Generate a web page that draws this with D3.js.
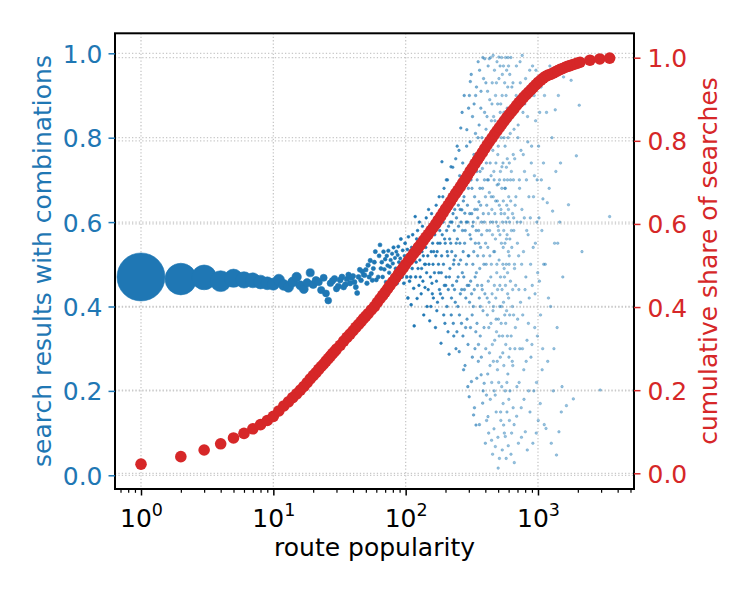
<!DOCTYPE html>
<html>
<head>
<meta charset="utf-8">
<script src="https://cdn.jsdelivr.net/npm/d3@7"></script>
<style>
  body { margin: 0; background: #fff; }
  svg text { font-family: "DejaVu Sans", sans-serif; }
</style>
</head>
<body>
<svg id="chart" width="750" height="600"></svg>
<script>
// red: cumulative share of searches, one point per popularity value
const shareX = [1,2,3,4,5,6,7,8,9,10,11,12,13,14,15,16,17,18,19,
  20,21,22,23,24,25,26,27,28,29,30,32,34,36,38,40,42,44,46,48,50,52,55,58,61,64,67,70,73,76,80,84,88,92,96,
  100,105,110,115,120,125,130,136,142,148,155,162,169,176,184,192,200,209,218,228,238,248,259,270,282,294,
  307,320,334,349,364,380,396,413,431,450,470,490,511,533,556,580,605,631,658,687,717,748,780,814,849,886,924,964,
  1006,1050,1095,1143,1192,1244,1298,1354,1413,1474,1538,1605,1675,1748,1824,1903,1986,2080,2470,2930,3480];
const shareY = [.022,.040,.056,.071,.085,.096,.107,.117,.127,.137,.150,.162,.172,.182,.191,.200,.209,.218,.227,
  .235,.242,.250,.257,.263,.270,.276,.282,.288,.293,.299,.308,.318,.327,.335,.343,.351,.358,.365,.372,.378,.384,.393,
  .401,.411,.420,.428,.436,.444,.452,.461,.470,.479,.487,.495,
  .503,.512,.520,.529,.536,.544,.551,.560,.568,.575,.584,.592,.600,.609,.618,.627,.636,.645,.654,.664,.673,.681,
  .690,.699,.708,.717,.727,.735,.745,.754,.763,.772,.781,.790,.799,.807,.816,.824,.832,.840,.848,.856,.863,.870,
  .877,.885,.892,.898,.905,.911,.917,.923,.929,.935,
  .941,.946,.951,.955,.958,.960,.963,.966,.969,.972,.974,.977,.979,.981,.983,.985,.987,.989,.994,.997,.999];

// blue: share of search results with combinations, low popularity (many routes each)
const comboHead = [[1,.470],[2,.465],[3,.469],[4,.460],[5,.467],[6,.463],[7,.462],[8,.458],[9,.455],[10,.453],
  [11,.463],[12,.451],[13,.446],[14,.458],[15,.470],[16,.450],[17,.441],[18,.456],[19,.480],[20,.452],
  [21,.462],[22,.458],[23,.439],[24,.468],[25,.431],[26,.414],[27,.455],[28,.461],[29,.466],[30,.442],
  [31,.448],[32,.463],[33,.470],[34,.446],[35,.452],[36,.465],[37,.475],[38,.455],[39,.468],[40,.472],
  [41,.458],[42,.446],[43,.432],[44,.470],[45,.487],[46,.462],[47,.483],[48,.475],[49,.474],[50,.487],
  [51,.455],[52,.498],[53,.470],[54,.509],[55,.478],[56,.462],[57,.490],[58,.505],[59,.530],[60,.463]];

// blue: higher popularity (few routes each, so widely spread)
const comboCloud = [
  [62,.47],[63,.52],[64,.546],[65,.49],[66,.505],[67,.47],[68,.53],[69,.488],[70,.512],[71,.458],[72,.52],[73,.497],
  [74,.532],[75,.48],[76,.494],[77,.51],[78,.462],[79,.525],[80,.502],[81,.54],[82,.47],[83,.515],
  [84,.49],[85,.53],[86,.455],[87,.522],[88,.542],[89,.505],[90,.48],[91,.514],[92,.56],[93,.498],[94,.47],[95,.533],
  [96,.49],[97,.455],[98,.52],[99,.55],[100,.486],[101,.51],[102,.47],[103,.535],[104,.42],[105,.565],[106,.498],[107,.46],[108,.522],
  [110,.404],[111,.54],[112,.49],[113,.57],[115,.443],[116,.354],[117,.52],[118,.613],[119,.47],[120,.505],[121,.56],[122,.419],
  [123,.58],[124,.49],[125,.53],[126,.45],[127,.6],[128,.51],[129,.47],[130,.555],[131,.43],[132,.49],[133,.53],[134,.59],
  [135,.46],[136,.52],[137,.38],[138,.57],[139,.5],[140,.445],
  [142,.54],[143,.61],[144,.48],[145,.4],[146,.56],[147,.52],[148,.44],[149,.63],[150,.5],[152,.366],[153,.58],[154,.47],
  [155,.4],[156,.53],[157,.62],[158,.455],[160,.55],[161,.5],[162,.42],[164,.6],[165,.48],[166,.57],[168,.35],[169,.52],
  [170,.64],[171,.46],[173,.53],[174,.41],[176,.59],[177,.5],[179,.66],[180,.44],
  [182,.55],[184,.62],[185,.313],[186,.48],[188,.743],[189,.57],[190,.42],[192,.6],[193,.5],[195,.68],[196,.45],[198,.36],
  [199,.55],[200,.63],[202,.47],[204,.58],[205,.4],[207,.7],[208,.52],[210,.44],[212,.65],[213,.287],[215,.56],[216,.49],
  [218,.6],[220,.731],[221,.38],[223,.53],[225,.67],[226,.45],[228,.62],[230,.5],[231,.33],[233,.58],[234,.44],
  [236,.676],[238,.52],[240,.3],[242,.61],[243,.46],[245,.78],[246,.56],[248,.4],[250,.64],[252,.5],[254,.293],[256,.71],
  [257,.55],[259,.43],[261,.823],[262,.6],[264,.36],[266,.629],[268,.48],[270,.74],[272,.53],[274,.25],[276,.66],[278,.44],
  [280,.621],[282,.58],[284,.35],[286,.72],[288,.5],[290,.819],[292,.45],[294,.6],[296,.31],[298,.68],[300,.52],[302,.186],
  [303,.9],[304,.41],
  [306,.57],[308,.933],[310,.46],[312,.7],[314,.222],[316,.62],[318,.38],[320,.85],[322,.5],[324,.6],[326,.143],[328,.76],
  [330,.44],[332,.66],[334,.3],[336,.55],[338,.9],[340,.119],[342,.48],[344,.72],[346,.36],[348,.63],[350,.52],[352,.8],
  [354,.27],[356,.58],[358,.648],[360,.42],[362,.96],[364,.68],[366,.33],[368,.54],[370,.87],[372,.238],[374,.6],[376,.45],
  [378,.75],[380,.727],[382,.171],[384,.39],[386,.62],[388,.94],[390,.5],[392,.218],[394,.7],[396,.987],
  [400,.076],[402,.55],[405,.82],[408,.19],[410,.64],[413,.42],[416,.91],[419,.139],[422,.7],[425,.35],[428,.987],[431,.58],
  [434,.26],[437,.78],[440,.47],[443,.66],[446,.083],[449,.88],[452,.31],[455,.6],[458,.995],[461,.4],[464,.72],[467,.2],
  [470,.53],[473,.84],[476,.068],[479,.65],[482,.37],[485,.93],[488,.48],[491,.688],[494,.25],[497,.76],[500,.017],[503,.58],
  [506,.991],[509,.33],[512,.7],[515,.45],
  [518,.86],[522,.15],[526,.62],[530,.4],[534,.731],[538,.95],[542,.29],[546,.54],[550,.119],[554,.8],[558,.47],[562,.68],
  [566,.092],[570,.36],[574,.9],[578,.56],[582,.22],[586,.75],[590,.43],[594,.99],[598,.63],[602,.18],[606,.52],[610,.84],
  [615,.3],[620,.7],[625,.05],[630,.58],[635,.92],[640,.4],[645,.26],[650,.76],[655,.61],[660,.12],[665,.49],[670,.88],
  [675,.35],[681,.66],[687,.97],[693,.21],[699,.55],[705,.8],[711,.076],[717,.44],[723,.7],[729,.3],[735,.93],[741,.6],
  [747,.16],[753,.5],[760,.995],[767,.38],[774,.76],[781,.25],[788,.61],[795,.88],[802,.103],[810,.47],[818,.7],[826,.32],
  [834,.85],[842,.57],[850,.2],[858,.42],[866,.96],
  [875,.61],[885,.28],[895,.78],[905,.45],[915,.076],[925,.66],[935,.9],[945,.35],[955,.55],[965,.96],[975,.22],[985,.7],
  [995,.48],[1005,.13],[1018,.61],[1030,.86],[1045,.38],[1060,.7],[1075,.25],[1090,.655],[1105,.5],[1120,.9],
  [1150,.111],[1175,.646],[1200,.42],[1230,.97],[1260,.076],[1290,.626],[1320,.3],[1350,.866],[1380,.048],[1410,.55],
  [1440,.103],[1480,.74],[1520,.21],[1560,.944],
  [1640,.165],[1700,.641],[1780,.936],[1850,.181],[1950,.757],[2050,.877],[2150,.53],
  [2950,.202],[3480,.613]];

// blue: the rest of the dense part of the cloud
const comboDense = [
  [109,.47],[114,.52],[141,.5],[151,.57],[159,.43],[163,.53],[167,.61],[172,.39],[175,.55],[178,.48],[181,.58],[183,.43],
  [187,.52],[191,.66],[194,.38],[197,.56],[201,.45],[203,.7],[206,.53],[209,.34],[211,.59],[214,.47],[217,.64],[219,.55],
  [222,.42],[224,.6],[227,.73],[229,.36],[232,.51],[235,.63],[237,.41],[239,.75],[241,.55],[244,.34],[247,.68],[249,.47],
  [251,.59],[253,.77],[255,.38],[258,.63],
  [260,.51],[263,.7],[265,.44],[267,.86],[269,.58],[271,.33],[273,.65],[275,.47],[277,.9],[279,.55],[281,.26],[283,.69],
  [285,.42],[287,.6],[289,.78],[291,.37],[293,.64],[295,.21],[297,.52],[299,.87],[301,.45],[305,.62],[307,.79],[309,.35],
  [311,.56],[313,.95],[315,.43],[317,.68],[319,.28],[321,.59],[323,.74],[325,.4],[327,.53],[329,.88],[331,.16],[333,.63],
  [335,.47],[337,.81],[339,.34],[341,.58],[343,.92],[345,.23],[347,.7],[349,.45],[351,.61],[353,.98],[355,.31],[357,.55],
  [359,.83],[361,.12],[363,.49],[365,.72],[367,.4],[369,.64],[371,.91],[373,.28],[375,.57],[377,.8],[379,.44],[381,.68],
  [383,.99],[385,.2],[387,.52],[389,.76],[391,.35],[393,.6],[395,.86],[397,.43],
  [401,.66],[403,.3],[404,.93],[406,.5],[407,.74],[409,.13],[411,.58],[412,.85],[414,.38],[415,.7],[417,.24],[418,.54],
  [420,.97],[421,.46],[423,.62],[424,.1],[426,.8],[427,.41],[429,.67],[430,.29],[432,.89],[433,.52],[435,.74],[436,.18],
  [438,.6],[439,.99],[441,.36],[442,.71],[444,.5],[445,.84],[447,.22],[448,.63],[450,.43],[451,.93],[453,.57],[454,.05],
  [456,.77],[457,.39],[459,.66],[460,.27],[462,.85],[463,.53],[465,.11],[466,.7],[468,.45],[469,.96],[471,.32],[472,.62],
  [474,.8],[475,.19],[477,.56],[478,.9],[480,.42],[481,.74],[483,.15],[484,.6],[486,.34],[487,.83],[489,.5],[490,.98],
  [492,.27],[493,.65],[495,.44],[496,.88],[498,.09],[499,.59],[501,.78],[502,.37],[504,.69],[505,.22],[507,.94],[508,.51],
  [510,.64],[511,.04],[513,.82],[514,.4],
  [516,.57],[517,.97],[519,.28],[520,.72],[521,.47],[523,.88],[524,.13],[525,.63],[527,.36],[528,.8],[529,.55],[531,.99],
  [532,.21],[533,.68],[535,.44],[536,.9],[537,.06],[539,.6],[540,.33],[541,.84],[543,.5],[544,.74],[545,.17],[547,.65],
  [548,.97],[549,.41],[551,.58],[552,.26],[553,.86],[555,.49],[556,.7],[557,.1],[559,.62],[560,.93],[561,.38],[563,.55],
  [564,.78],[565,.2],[567,.68],[568,.45],[569,.99],[571,.31],[572,.6],[573,.83],[575,.04],[576,.5],[577,.73],[579,.39],
  [580,.96],[581,.64],[583,.15],[584,.57],[585,.87],[587,.33],[588,.7],[589,.48],[591,.92],[592,.24],[593,.61],[595,.8],
  [596,.07],[597,.53],[599,.97],[600,.42],[601,.66],[603,.28],[604,.85],[605,.5],[607,.74],[608,.13],[609,.6],[611,.38],
  [612,.95],[613,.56],[614,.2],
  [617,.81],[619,.46],[622,.65],[624,.99],[627,.33],[629,.72],[632,.1],[634,.54],[637,.86],[639,.27],[642,.62],[644,.44],
  [647,.93],[649,.16],[652,.7],[654,.38],[657,.58],[659,.82],[662,.03],[664,.5],[667,.75],[669,.3],
  [672,.64],[678,.45],[684,.9],[690,.14],[696,.6],[702,.37],[708,.83],[714,.52],[720,.22],[726,.68],[732,.98],[738,.41],
  [744,.77],[750,.09],[756,.63],[763,.3],[770,.86],[777,.53],[784,.18],[791,.72],[798,.44],[806,.94],[814,.27],[822,.58],
  [830,.06],[838,.79],[846,.36],[854,.66],[862,.9],[870,.15],[880,.5],[890,.74],[900,.31],[910,.97],[920,.54],[930,.2],
  [940,.71],[950,.43],[960,.84],[970,.1],[980,.6],[990,.33],
  [1010,.78],[1025,.46],[1040,.17],[1055,.92],[1070,.58],[1085,.3],[1100,.74],[1115,.12],[1135,.5],[1160,.86],[1185,.27],
  [1215,.68],[1245,.4],[1275,.8],[1305,.2],[1335,.55],[1365,.72],[1395,.35],[1425,.9],[1460,.6],[1500,.15],[1540,.47]];

const leftTicks = [0, 0.2, 0.4, 0.6, 0.8, 1.0];
const rightTicks = [0, 0.2, 0.4, 0.6, 0.8, 1.0];
const decadeTicks = [1, 10, 100, 1000];

const blue = "#1f77b4", red = "#d62728";
const plot = { left: 115, right: 634, top: 33.3, bottom: 489 };
const svg = d3.select("#chart");

const x = d3.scaleLog().domain([0.636, 5316]).range([plot.left, plot.right]);
const yL = d3.scaleLinear().domain([-0.0325, 1.0474]).range([plot.bottom, plot.top]);
const yR = d3.scaleLinear().domain([-0.0378, 1.0587]).range([plot.bottom, plot.top]);
// marker size shrinks with popularity (fewer routes per value)
const radius = d3.scalePow().exponent(-0.6).domain([1, 1000]).range([24, 0.38]);
const fade = d3.scaleLog().domain([150, 450]).range([1, 0.45]).clamp(true);

// dotted grid, both y axes have their own lines
const grid = svg.append("g")
  .attr("stroke", "#c8c8c8").attr("stroke-width", 1.3).attr("stroke-dasharray", "1.3,2.1");
grid.append("g").selectAll("line").data(decadeTicks).join("line")
  .attr("x1", d => x(d)).attr("x2", d => x(d)).attr("y1", plot.top).attr("y2", plot.bottom);
grid.append("g").selectAll("line").data(leftTicks).join("line")
  .attr("x1", plot.left).attr("x2", plot.right).attr("y1", d => yL(d)).attr("y2", d => yL(d));
grid.append("g").selectAll("line").data(rightTicks).join("line")
  .attr("x1", plot.left).attr("x2", plot.right).attr("y1", d => yR(d)).attr("y2", d => yR(d));

// blue scatter, big markers first
const combo = comboHead.concat(comboCloud, comboDense).sort((a, b) => a[0] - b[0]);
svg.append("g").selectAll("circle").data(combo).join("circle")
  .attr("cx", d => x(d[0]))
  .attr("cy", d => yL(d[1]))
  .attr("r", d => Math.max(1.3, radius(d[0])))
  .attr("fill", blue)
  .attr("fill-opacity", d => fade(d[0]))
  .attr("stroke", blue)
  .attr("stroke-width", 0.6)
  .attr("stroke-opacity", d => fade(d[0]));

// red cumulative share on top
svg.append("g").selectAll("circle").data(shareX).join("circle")
  .attr("cx", d => x(d))
  .attr("cy", (d, i) => yR(shareY[i]))
  .attr("r", 5.8)
  .attr("fill", red);

// frame
svg.append("rect")
  .attr("x", plot.left).attr("y", plot.top)
  .attr("width", plot.right - plot.left).attr("height", plot.bottom - plot.top)
  .attr("fill", "none").attr("stroke", "#000").attr("stroke-width", 2);

const fontSize = 25;
function styleAxis(g, color) {
  g.select(".domain").remove();
  g.attr("font-family", "DejaVu Sans").attr("font-size", fontSize);
  g.selectAll("line").attr("stroke", color).attr("stroke-width", 1.5);
  g.selectAll("text").attr("fill", color).attr("dy", "0.36em");
}

const axL = svg.append("g").attr("transform", `translate(${plot.left},0)`)
  .call(d3.axisLeft(yL).tickValues(leftTicks).tickFormat(d3.format(".1f")).tickSize(6.5).tickPadding(6));
styleAxis(axL, blue);

const axR = svg.append("g").attr("transform", `translate(${plot.right},0)`)
  .call(d3.axisRight(yR).tickValues(rightTicks).tickFormat(d3.format(".1f")).tickSize(6.5).tickPadding(7));
styleAxis(axR, red);

// log x axis: minor ticks, then majors with 10^n labels
const minor = x.ticks().filter(d => !decadeTicks.includes(d));
const axMinor = svg.append("g").attr("transform", `translate(0,${plot.bottom})`)
  .call(d3.axisBottom(x).tickValues(minor).tickFormat("").tickSize(3.8));
axMinor.select(".domain").remove();
axMinor.selectAll("line").attr("stroke", "#000").attr("stroke-width", 1.2);

const axB = svg.append("g").attr("transform", `translate(0,${plot.bottom})`)
  .call(d3.axisBottom(x).tickValues(decadeTicks).tickFormat("").tickSize(6.5));
axB.select(".domain").remove();
axB.selectAll("line").attr("stroke", "#000").attr("stroke-width", 1.5);
const lbl = axB.selectAll(".tick").append("text")
  .attr("y", 38).attr("fill", "#000").attr("text-anchor", "middle")
  .attr("font-family", "DejaVu Sans").attr("font-size", fontSize);
lbl.append("tspan").text("10");
lbl.append("tspan").attr("font-size", 17.5).attr("dy", -11).text(d => Math.round(Math.log10(d)));

// axis titles
svg.append("text")
  .attr("x", (plot.left + plot.right) / 2).attr("y", 556)
  .attr("text-anchor", "middle").attr("font-size", fontSize).attr("fill", "#000")
  .text("route popularity");
svg.append("text")
  .attr("transform", "translate(50.5,261) rotate(-90)")
  .attr("text-anchor", "middle").attr("font-size", fontSize).attr("fill", blue)
  .text("search results with combinations");
svg.append("text")
  .attr("transform", "translate(717,261) rotate(-90)")
  .attr("text-anchor", "middle").attr("font-size", fontSize).attr("fill", red)
  .text("cumulative share of searches");
</script>
</body>
</html>
